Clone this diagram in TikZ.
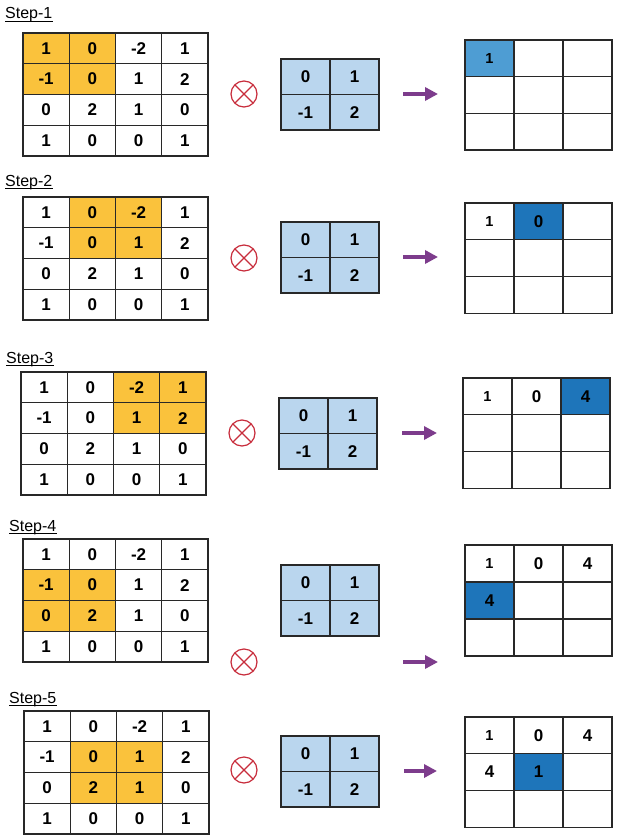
\documentclass[tikz,border=0pt]{standalone}
\usepackage{fontspec}
\setmainfont{Liberation Sans}
\usetikzlibrary{arrows.meta}
\definecolor{hlorange}{RGB}{250,194,60}
\definecolor{kblue}{RGB}{186,214,238}
\definecolor{oblue}{RGB}{30,117,186}
\definecolor{olight}{RGB}{78,157,211}
\definecolor{opred}{RGB}{200,45,60}
\definecolor{arrowpurple}{RGB}{125,60,140}
\definecolor{gridline}{RGB}{40,40,40}
\tikzset{
 cellbase/.style={draw=gridline, line width=1.2pt, inner sep=0pt, text=black, font=\bfseries\fontsize{17}{17}\selectfont},
 incell/.style={cellbase, minimum width=46.25pt, minimum height=30.75pt},
 kcell/.style={cellbase, fill=kblue, minimum width=49pt, minimum height=35.5pt},
 ocell/.style={cellbase, minimum width=49pt, minimum height=36.7pt},
 steplabel/.style={anchor=base west, inner sep=0pt, font=\fontsize{16}{16}\selectfont},
 optimes/.style={circle, draw=opred, line width=1.2pt, minimum size=26pt, inner sep=0pt, outer sep=0pt},
 flowarrow/.style={draw=arrowpurple, line width=4.5pt, -{Triangle[length=13pt,width=13pt]}}
}
\newcommand{\steplbl}[4]{%
 \node[steplabel] (#1-lbl) at (#2,#3) {#4};
 \draw[line width=0.8pt] ([yshift=-2.6pt]#1-lbl.base west) -- ([yshift=-2.6pt]#1-lbl.base east);}
\newcommand{\ingrid}[5]{%
 \foreach \r/\vals in {1/{1,0,-2,1},2/{-1,0,1,2},3/{0,2,1,0},4/{1,0,0,1}}{%
  \foreach \v [count=\c] in \vals {%
   \pgfmathtruncatemacro{\hl}{and(and(\r>=#4,\r<=#4+1),and(\c>=#5,\c<=#5+1))}%
   \ifnum\hl=1 \def\cf{hlorange}\else\def\cf{white}\fi
   \node[incell, fill=\cf] (#1-in-\r-\c) at ({#2+(\c-0.5)*46.25},{#3+(\r-0.5)*30.75}) {\v};
  }}}
\newcommand{\kergrid}[3]{%
 \foreach \r/\vals in {1/{0,1},2/{-1,2}}{%
  \foreach \v [count=\c] in \vals {%
   \node[kcell] (#1-k-\r-\c) at ({#2+(\c-0.5)*49},{#3+(\r-0.5)*35.5}) {\v};
  }}}
\newcommand{\outgrid}[6]{% name, x, y, n, hlcolor, height
 \foreach \r in {1,2,3}{\foreach \c in {1,2,3}{%
  \pgfmathtruncatemacro{\idx}{(\r-1)*3+\c}%
  \ifnum\idx=#4 \def\cf{#5}\else\def\cf{white}\fi
  \ifnum\idx>#4 \def\tv{}\else\edef\tv{\ifcase\idx\or 1\or 0\or 4\or 4\or 1\fi}\fi
  \ifnum\idx=1 \def\fs{\fontsize{14.5}{15}\selectfont}\else\def\fs{}\fi
  \node[ocell, minimum height=#6pt, fill=\cf, font=\bfseries\fontsize{17}{17}\selectfont\fs] (#1-out-\r-\c) at ({#2+(\c-0.5)*49},{#3+(\r-0.5)*#6}) {\tv};
 }}}
\newcommand{\opcircle}[3]{%
 \node[optimes] (#1-op) at (#2,#3) {};
 \draw[draw=opred, line width=1.2pt] (#1-op.45) -- (#1-op.225) (#1-op.135) -- (#1-op.315);}
\newcommand{\flowarr}[4]{%
 \coordinate (#1-as) at (#2,#4);
 \coordinate (#1-ae) at (#3,#4);
 \draw[flowarrow] (#1-as) -- (#1-ae);}
\begin{document}
\begin{tikzpicture}[x=1pt,y=-1pt]
\fill[white] (0,0) rectangle (618,837);
\useasboundingbox (0,0) rectangle (618,837);
% Step 1
\steplbl{s1}{5}{19}{Step-1}
\ingrid{s1}{23}{33}{1}{1}
\opcircle{s1}{244}{94}
\kergrid{s1}{281}{59}
\flowarr{s1}{403}{438}{94}
\outgrid{s1}{465}{40}{1}{olight}{36.7}
% Step 2
\steplbl{s2}{5}{186}{Step-2}
\ingrid{s2}{23}{197}{1}{2}
\opcircle{s2}{244}{258}
\kergrid{s2}{281}{222}
\flowarr{s2}{403}{438}{257}
\outgrid{s2}{465}{203}{2}{oblue}{36.7}
% Step 3
\steplbl{s3}{6}{363}{Step-3}
\ingrid{s3}{21}{372}{1}{3}
\opcircle{s3}{242}{433}
\kergrid{s3}{279}{398}
\flowarr{s3}{402}{437}{433}
\outgrid{s3}{463}{378}{3}{oblue}{36.7}
% Step 4
\steplbl{s4}{9}{531}{Step-4}
\ingrid{s4}{23}{539}{2}{1}
\opcircle{s4}{244}{662}
\kergrid{s4}{281}{565}
\flowarr{s4}{403}{438}{662}
\outgrid{s4}{465}{545}{4}{oblue}{37}
% Step 5
\steplbl{s5}{9}{703}{Step-5}
\ingrid{s5}{24}{711}{2}{2}
\opcircle{s5}{244}{770}
\kergrid{s5}{281}{736}
\flowarr{s5}{404}{437}{771}
\outgrid{s5}{465}{717}{5}{oblue}{36.7}
\end{tikzpicture}
\end{document}
